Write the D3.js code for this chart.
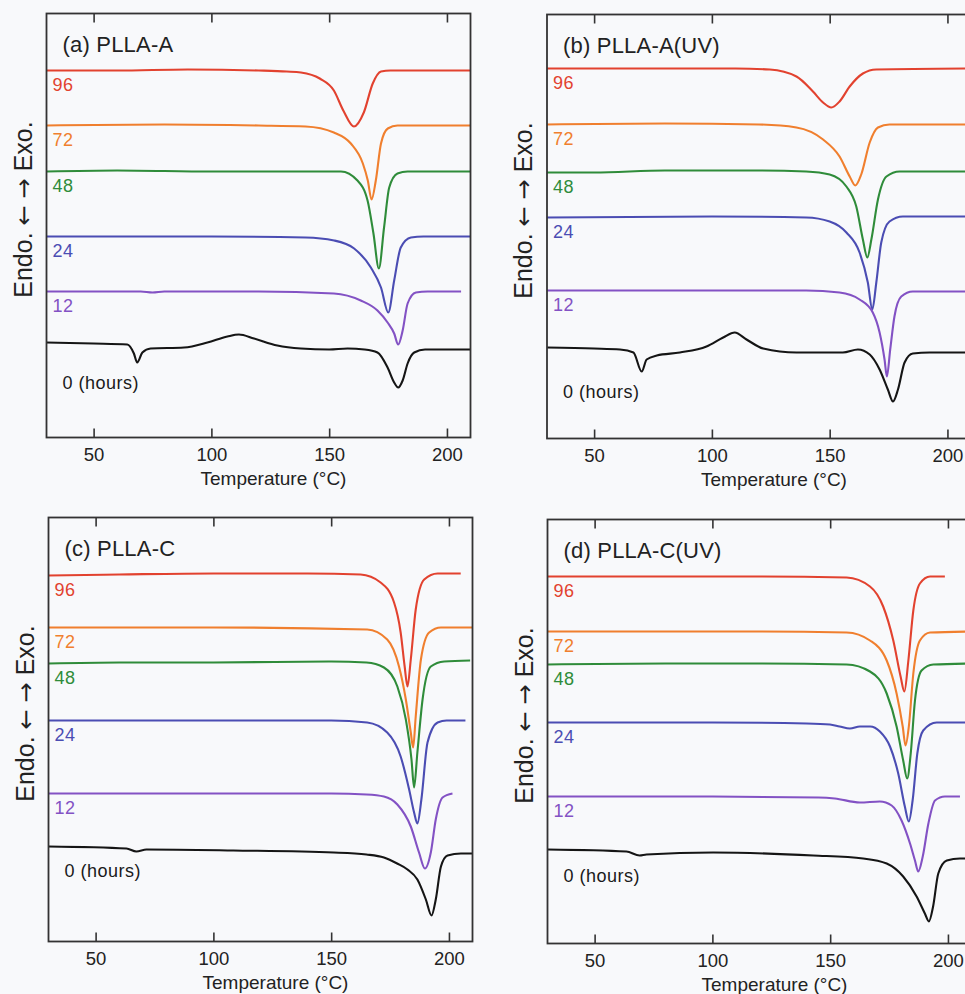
<!DOCTYPE html>
<html>
<head>
<meta charset="utf-8">
<script src="https://cdn.jsdelivr.net/npm/d3@7"></script>
<style>
  body { margin: 0; background: #f8f9fb; }
  svg { display: block; background: #f8f9fb; }
  text { font-family: "Liberation Sans", Arial, Helvetica, sans-serif; fill: #222; }
</style>
</head>
<body>
<svg id="chart" width="965" height="994"></svg>
<script>
// ---- axis / legend content ----
const tempDomain = [30, 210];
const heatDomain = [0, 42.4];          // heat flow, arbitrary units (curves offset vertically)
const tempTicks = [50, 100, 150, 200];
const agingHours = [96, 72, 48, 24, 12, 0];
const hourLabels = ["96", "72", "48", "24", "12", "0 (hours)"];
const panelTitles = ["(a) PLLA-A", "(b) PLLA-A(UV)", "(c) PLLA-C", "(d) PLLA-C(UV)"];
const xTitle = "Temperature (\u00B0C)";
const yTitleParts = ["Endo. ", "\u2190", " ", "\u2192", " Exo."];
const curveColors = ["#e2422f", "#f07f2e", "#2f8c3a", "#4b4db3", "#8352c4", "#151515"];

// ---- DSC traces: [temperature °C, heat flow a.u.] ----
// (a) PLLA-A
const a96 = [[30,36.7],[60,36.7],[90,36.8],[120,36.7],[132,36.6],[138,36.5],[146,35.9],[152,34.7],[156,32.7],[160.5,31.1],[164.7,32.5],[168.5,35.4],[172,36.6],[176,36.7],[210,36.7]];
const a72 = [[30,31.2],[80,31.3],[120,31.2],[140,31.1],[152,30.5],[159.2,29.4],[164.3,27.4],[166.4,25.7],[168,23.8],[169.8,25.7],[172,29.4],[174.9,30.9],[179,31.2],[210,31.2]];
const a48 = [[30,26.6],[60,26.7],[100,26.6],[140,26.6],[155,26.6],[162,25.7],[166.3,23.7],[168.8,20.4],[171.1,16.9],[173.3,21.0],[175.5,25.0],[179,26.4],[183.3,26.6],[210,26.6]];
const a24 = [[30,20.1],[100,20.1],[140,20.0],[152.1,19.7],[160.6,18.9],[167.7,17.0],[172,15.0],[175.1,12.5],[177.6,15.7],[180.4,19.0],[184.7,20.0],[190,20.1],[210,20.1]];
const a12 = [[30,14.6],[70,14.6],[75,14.5],[80,14.6],[120,14.6],[152,14.4],[163.4,13.7],[170.5,12.7],[174.8,11.5],[177.6,10.4],[179.3,9.3],[181.2,10.7],[183.3,13.4],[186.8,14.5],[191.8,14.6],[206,14.6]];
const a0  = [[30,9.5],[50,9.4],[64.3,9.3],[67.1,8.4],[68.5,7.5],[70.7,8.5],[74.2,8.9],[88.4,9.0],[98.3,9.5],[106.8,10.1],[111.7,10.3],[118.1,9.9],[128,9.2],[138,8.9],[150,8.8],[157.8,8.9],[165,8.8],[170.5,8.5],[174.8,7.0],[177.6,5.5],[179.3,5.0],[181.2,5.7],[183.3,7.4],[186.1,8.5],[190.7,8.8],[210,8.8]];

// (b) PLLA-A(UV)
const b96 = [[30,37.0],[80,37.0],[110,37.0],[124.6,36.9],[135.9,36.2],[142.9,34.7],[147.2,33.6],[150.7,33.1],[154.2,33.7],[158.5,35.2],[164.1,36.5],[169.8,36.9],[210,37.0]];
const b72 = [[30,31.4],[80,31.5],[120,31.4],[135.9,31.1],[147.2,29.9],[154.2,28.2],[158.5,26.2],[160.9,25.3],[163.4,26.4],[167,29.6],[170.5,31.1],[175.4,31.4],[210,31.4]];
const b48 = [[30,26.6],[50,26.6],[80,26.8],[120,26.8],[140,26.7],[150,26.4],[157.1,25.2],[161.3,23.2],[164.1,19.9],[166,18.1],[167.7,19.9],[170.5,23.9],[174.1,26.2],[179.7,26.7],[210,26.7]];
const b24 = [[30,22.1],[100,22.2],[140,22.1],[150,21.7],[157.1,20.6],[162.7,18.6],[166.2,15.6],[168.1,12.9],[169.8,15.6],[171.9,19.6],[175.4,21.7],[181.1,22.2],[210,22.2]];
const b12 = [[30,14.8],[100,14.8],[140,14.8],[154.2,14.6],[162.7,13.9],[168.3,12.6],[171.2,10.6],[173.3,7.9],[174.3,6.2],[175.7,8.9],[177.5,12.2],[180.4,14.2],[185.3,14.7],[210,14.7]];
const b0  = [[30,9.1],[50,9.0],[61,8.9],[66.7,8.6],[70.2,6.7],[72.3,7.9],[76.6,8.3],[86.4,8.6],[97.7,9.2],[104.8,10.1],[109.7,10.6],[114.7,9.9],[121.8,9.0],[135.9,8.6],[155.6,8.6],[162,8.9],[167,8.4],[171.2,6.9],[174.7,4.9],[176.9,3.7],[179,4.9],[181.8,7.6],[185.3,8.5],[192.4,8.6],[210,8.6]];

// (c) PLLA-C
const c96 = [[30,36.6],[60,36.7],[100,36.8],[140,36.8],[162.5,36.7],[171,35.9],[176.7,33.9],[179.5,30.9],[181.2,27.5],[182.4,25.5],[183.8,28.2],[185.9,33.2],[189.5,36.2],[195.2,36.8],[205,36.8]];
const c72 = [[30,31.4],[100,31.4],[165.3,31.2],[173.8,30.2],[178.8,27.5],[181.7,24.2],[183.8,20.9],[184.8,19.4],[185.9,22.5],[188.1,28.2],[191.6,30.9],[196.6,31.4],[210,31.4]];
const c48 = [[30,27.8],[60,27.9],[100,27.9],[150,28.0],[165,27.9],[172.4,27.4],[178.1,25.5],[181.7,22.2],[184.1,18.2],[185.2,15.4],[186.6,18.9],[188.8,24.2],[192.3,27.5],[198,28.0],[209,28.1]];
const c24 = [[30,22.1],[80,22.1],[120,22.1],[150,22.1],[165.3,21.9],[173.8,20.9],[179.5,18.5],[183.1,15.2],[185.2,12.9],[186.6,11.8],[188.3,14.2],[190.9,19.9],[195.2,21.9],[199,22.1],[207,22.1]];
const c12 = [[30,14.8],[70,14.8],[100,14.8],[150,14.8],[165,14.7],[172.4,14.5],[178.1,13.7],[183.8,11.5],[187.3,8.9],[189.8,7.3],[192.3,8.9],[194.4,12.2],[197.3,14.4],[201.5,14.8]];
const c0  = [[30,9.5],[63.1,9.3],[67.3,9.0],[71.6,9.2],[108.5,9.1],[151.1,8.9],[165,8.7],[172.4,8.4],[178,7.8],[182.4,7.2],[186.6,6.2],[190.2,4.2],[192.6,2.6],[194.4,4.2],[196.6,7.5],[199.4,8.6],[205.1,8.8],[210,8.8]];

// (d) PLLA-C(UV)
const d96 = [[30,36.7],[80,36.7],[120,36.7],[157,36.6],[166.9,35.7],[172.5,33.7],[176.8,30.3],[179.9,26.7],[181.5,25.2],[183.2,28.3],[185.3,33.3],[188.1,36.0],[192.4,36.7],[198.7,36.7]];
const d72 = [[30,31.2],[80,31.2],[120,31.2],[157,31.1],[166.9,30.3],[174,28.3],[178.2,25.0],[180.8,21.7],[182,19.8],[183.4,21.7],[185.3,27.0],[188.1,30.3],[192.4,31.1],[210,31.2]];
const d48 = [[30,27.9],[80,28.0],[120,28.0],[157,27.9],[166.9,27.2],[174,25.0],[178.2,21.7],[181,18.3],[182.7,16.5],[184.2,19.0],[186,24.3],[188.8,27.3],[193.8,27.9],[210,28.0]];
const d24 = [[30,22.1],[100,22.1],[140,22.0],[149.9,21.9],[154,21.7],[158.4,21.5],[162.6,21.7],[167,21.7],[171.1,21.2],[175.4,19.7],[178.9,17.0],[181.7,13.7],[183.4,12.2],[185,14.3],[187,19.0],[189.5,21.3],[195.2,22.1],[210,22.1]];
const d12 = [[30,14.7],[100,14.7],[145,14.6],[152,14.5],[162.6,14.1],[171.1,14.2],[176.1,13.8],[180.3,12.3],[183.9,10.0],[186,8.3],[187.4,7.2],[189.3,8.7],[191.7,12.0],[194.5,14.3],[198.7,14.7],[205.1,14.7]];
const d0  = [[30,9.4],[63.5,9.2],[69.1,8.8],[72,8.9],[100.3,9.1],[142.8,8.8],[164,8.5],[174,8.0],[181,6.7],[186.7,4.7],[190.2,3.0],[191.9,2.2],[193.7,3.7],[195.9,7.0],[199.5,8.3],[205.1,8.5],[210,8.5]];

// ---- layout ----
const PW = 424, PH = 424;
const panels = [
  { title: panelTitles[0], curves: [a96, a72, a48, a24, a12, a0], left: 46.5, top: 13.5, zeroDy: 40 },
  { title: panelTitles[1], curves: [b96, b72, b48, b24, b12, b0], left: 547,  top: 14.5, zeroDy: 44 },
  { title: panelTitles[2], curves: [c96, c72, c48, c24, c12, c0], left: 48.5, top: 517.5, zeroDy: 24 },
  { title: panelTitles[3], curves: [d96, d72, d48, d24, d12, d0], left: 547.5, top: 519.5, zeroDy: 26 }
];

const svg = d3.select("#chart");
const x = d3.scaleLinear().domain(tempDomain).range([0, PW]);
const y = d3.scaleLinear().domain(heatDomain).range([PH, 0]);
const line = d3.line()
  .x(d => x(d[0]))
  .y(d => y(d[1]))
  .curve(d3.curveMonotoneX);

panels.forEach(p => {
  const g = svg.append("g").attr("transform", `translate(${p.left},${p.top})`);

  // traces
  p.curves.forEach((data, i) => {
    g.append("path")
      .datum(data)
      .attr("fill", "none")
      .attr("stroke", curveColors[i])
      .attr("stroke-width", 2.1)
      .attr("stroke-linejoin", "round")
      .attr("d", line);
  });

  // curve labels (aging time)
  p.curves.forEach((data, i) => {
    const isZero = agingHours[i] === 0;
    g.append("text")
      .attr("x", isZero ? 16 : 6)
      .attr("y", y(data[0][1]) + (isZero ? p.zeroDy + 6.5 : 20))
      .attr("font-size", 18)
      .attr("letter-spacing", 0.5)
      .style("fill", isZero ? "#1a1a1a" : curveColors[i])
      .text(hourLabels[i]);
  });

  // bottom axis: inward ticks + labels
  const bottom = g.append("g")
    .attr("transform", `translate(0,${PH})`)
    .call(d3.axisBottom(x).tickValues(tempTicks).tickSizeInner(-9).tickSizeOuter(0).tickPadding(10.5));
  bottom.select(".domain").remove();
  bottom.selectAll("line").attr("stroke", "#333").attr("stroke-width", 1.6);
  bottom.selectAll("text")
    .attr("font-size", 18.5)
    .attr("font-family", '"Liberation Sans", Arial, Helvetica, sans-serif')
    .style("fill", "#222");

  // top axis: inward ticks only
  const top = g.append("g")
    .call(d3.axisTop(x).tickValues(tempTicks).tickSizeInner(-9).tickSizeOuter(0).tickFormat(""));
  top.select(".domain").remove();
  top.selectAll("line").attr("stroke", "#333").attr("stroke-width", 1.6);

  // frame
  g.append("rect")
    .attr("x", 0).attr("y", 0)
    .attr("width", PW).attr("height", PH)
    .attr("fill", "none")
    .attr("stroke", "#333")
    .attr("stroke-width", 1.8);

  // panel title
  g.append("text")
    .attr("x", 16)
    .attr("y", 38)
    .attr("font-size", 22)
    .attr("letter-spacing", 0.2)
    .text(p.title);

  // axis titles
  g.append("text")
    .attr("x", 227)
    .attr("y", PH + 47)
    .attr("text-anchor", "middle")
    .attr("font-size", 19)
    .text(xTitle);

  const yt = g.append("text")
    .attr("transform", `translate(-15,196) rotate(-90)`)
    .attr("text-anchor", "middle")
    .attr("font-size", 25);
  yTitleParts.forEach(part => {
    const isArrow = part === "\u2190" || part === "\u2192";
    const ts = yt.append("tspan").text(part);
    if (isArrow) {
      ts.style("font-family", '"DejaVu Sans", sans-serif').attr("font-size", 24);
    }
  });
});
</script>
</body>
</html>
